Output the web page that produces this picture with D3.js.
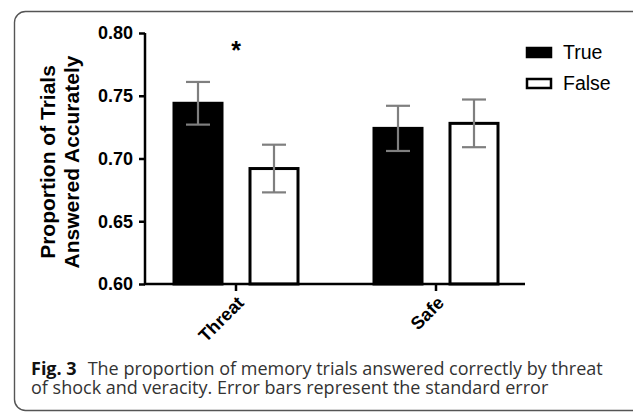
<!DOCTYPE html>
<html>
<head>
<meta charset="utf-8">
<script src="https://cdn.jsdelivr.net/npm/d3@7"></script>
<style>
  body { margin: 0; background: #fff; }
  svg { display: block; }
</style>
</head>
<body>
<script>
// data
const groups = ["Threat", "Safe"];
const series = ["True", "False"];
const means = [[0.744, 0.692], [0.724, 0.728]];   // [group][series]
const sems = [[0.017, 0.019], [0.018, 0.019]];
const yTicks = [0.60, 0.65, 0.70, 0.75, 0.80];
const yLabel = ["Proportion of Trials", "Answered Accurately"];
const captionBold = "Fig. 3";
const captionLines = [
  "The proportion of memory trials answered correctly by threat",
  "of shock and veracity. Error bars represent the standard error"
];

const W = 633, H = 413;
const svg = d3.select("body").append("svg")
  .attr("width", W).attr("height", H);

// frame (runs off the right and bottom edges)
svg.append("rect")
  .attr("x", 14.5).attr("y", 11.5)
  .attr("width", 640).attr("height", 399)
  .attr("rx", 11)
  .attr("fill", "none")
  .attr("stroke", "#555")
  .attr("stroke-width", 1.4);

const x0 = 145, x1 = 525;
let y = d3.scaleLinear().domain([0.6, 0.8]).range([284, 33]);
let xg = d3.scaleOrdinal().domain(groups).range([236, 436]);
let xs = d3.scaleOrdinal().domain(series).range([-38, 38]);
const barW = 48;

const font = "Arial, 'Liberation Sans', sans-serif";

// bars
let rows = [];
groups.forEach((g, i) => series.forEach((s, j) => rows.push({g: g, s: s, m: means[i][j], e: sems[i][j]})));

svg.selectAll("rect.bar")
  .data(rows)
  .join("rect")
  .attr("class", "bar")
  .attr("x", d => xg(d.g) + xs(d.s) - barW / 2)
  .attr("y", d => y(d.m))
  .attr("width", barW)
  .attr("height", d => y(0.6) - y(d.m))
  .attr("fill", d => d.s === "True" ? "#000" : "#fff")
  .attr("stroke", "#000")
  .attr("stroke-width", 3);

// error bars
let eb = svg.selectAll("g.err").data(rows).join("g").attr("class", "err")
  .attr("stroke", "#7f7f7f").attr("stroke-width", 2.2);
eb.append("line")
  .attr("x1", d => xg(d.g) + xs(d.s)).attr("x2", d => xg(d.g) + xs(d.s))
  .attr("y1", d => y(d.m - d.e)).attr("y2", d => y(d.m + d.e));
eb.append("line")
  .attr("x1", d => xg(d.g) + xs(d.s) - 12).attr("x2", d => xg(d.g) + xs(d.s) + 12)
  .attr("y1", d => y(d.m + d.e)).attr("y2", d => y(d.m + d.e));
eb.append("line")
  .attr("x1", d => xg(d.g) + xs(d.s) - 12).attr("x2", d => xg(d.g) + xs(d.s) + 12)
  .attr("y1", d => y(d.m - d.e)).attr("y2", d => y(d.m - d.e));

// y axis
let yAxis = svg.append("g")
  .attr("transform", "translate(" + x0 + ",0)")
  .call(d3.axisLeft(y).tickValues(yTicks).tickFormat(d3.format(".2f")).tickSize(6).tickPadding(6));
yAxis.select(".domain").attr("stroke", "#000").attr("stroke-width", 2.5).attr("d", "M0," + y(0.6) + "V" + y(0.8));
yAxis.selectAll(".tick line").attr("stroke", "#000").attr("stroke-width", 2.5);
yAxis.selectAll(".tick text")
  .attr("fill", "#000")
  .style("font-family", font).style("font-size", "18px").style("font-weight", "bold");

// x axis
let xAxis = svg.append("g").attr("transform", "translate(0," + y(0.6) + ")");
xAxis.append("line").attr("x1", x0 - 1).attr("x2", x1).attr("stroke", "#000").attr("stroke-width", 2.5);
xAxis.selectAll("line.tk").data(groups).join("line").attr("class", "tk")
  .attr("x1", d => xg(d)).attr("x2", d => xg(d)).attr("y1", 0).attr("y2", 7)
  .attr("stroke", "#000").attr("stroke-width", 2.5);
xAxis.selectAll("text").data(groups).join("text")
  .attr("transform", d => "translate(" + (xg(d) + 9) + ",20) rotate(-45)")
  .attr("text-anchor", "end")
  .style("font-family", font).style("font-size", "18px").style("font-weight", "bold")
  .text(d => d);

// y label
svg.append("text")
  .attr("transform", "translate(55,162) rotate(-90)")
  .attr("text-anchor", "middle")
  .style("font-family", font).style("font-size", "21px").style("font-weight", "bold")
  .selectAll("tspan")
  .data(yLabel)
  .join("tspan")
  .attr("x", 0).attr("dy", (d, i) => i === 0 ? 0 : 24)
  .text(d => d);

// significance marker
svg.append("text")
  .attr("x", xg("Threat")).attr("y", 59)
  .attr("text-anchor", "middle")
  .style("font-family", font).style("font-size", "25px").style("font-weight", "bold")
  .text("*");

// legend
let lg = svg.selectAll("g.leg").data(series).join("g").attr("class", "leg")
  .attr("transform", (d, i) => "translate(527," + (48 + i * 31) + ")");
lg.append("rect")
  .attr("x", 0).attr("y", 0).attr("width", 24).attr("height", 9)
  .attr("fill", d => d === "True" ? "#000" : "#fff")
  .attr("stroke", "#000").attr("stroke-width", 2.5);
lg.append("text")
  .attr("x", 36).attr("y", 11)
  .style("font-family", font).style("font-size", "19.5px")
  .text(d => d);

// caption
const capFont = "'Open Sans', sans-serif";
let fig = svg.append("text")
  .attr("x", 31).attr("y", 375)
  .style("font-family", capFont).style("font-size", "18px").style("font-weight", "bold")
  .attr("fill", "#111").text(captionBold);
let figW = fig.node().getComputedTextLength();
svg.append("text")
  .attr("x", 31 + figW + 11).attr("y", 375)
  .style("font-family", capFont).style("font-size", "18px")
  .attr("fill", "#333").text(captionLines[0]);
svg.append("text")
  .attr("x", 31).attr("y", 394)
  .style("font-family", capFont).style("font-size", "18px")
  .attr("fill", "#333").text(captionLines[1]);
</script>
</body>
</html>
